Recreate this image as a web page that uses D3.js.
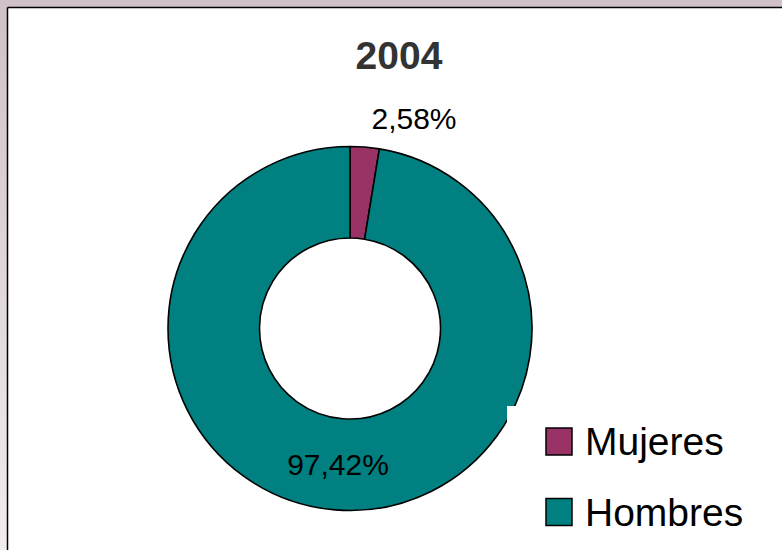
<!DOCTYPE html>
<html>
<head>
<meta charset="utf-8">
<script src="https://cdn.jsdelivr.net/npm/d3@7/dist/d3.min.js"></script>
<style>
html,body{margin:0;padding:0;background:#fff;}
svg{display:block;}
</style>
</head>
<body>
<svg id="c" width="782" height="550"></svg>
<script>
const title = "2004";
const categories = ["Mujeres", "Hombres"];
const values = [2.58, 97.42];
const labels = ["2,58%", "97,42%"];
const colors = ["#993366", "#008080"];

const svg = d3.select("#c");
const W = 782, H = 550;
const font = "'Liberation Sans', Arial, Helvetica, sans-serif";

// frame
const defs = svg.append("defs");
const lg = defs.append("linearGradient").attr("id","lg").attr("x1",0).attr("y1",0).attr("x2",0).attr("y2",1);
lg.append("stop").attr("offset","0%").attr("stop-color","#d0c0c8");
lg.append("stop").attr("offset","100%").attr("stop-color","#f0ecf0");
svg.append("rect").attr("x",0).attr("y",0).attr("width",W).attr("height",H).attr("fill","#fff");
svg.append("rect").attr("x",0).attr("y",0).attr("width",8).attr("height",H).attr("fill","url(#lg)");
svg.append("rect").attr("x",0).attr("y",0).attr("width",W).attr("height",7).attr("fill","#d0c0c8");
svg.append("line").attr("x1",7.5).attr("y1",7.5).attr("x2",W).attr("y2",7.5).attr("stroke","#000").attr("stroke-width",1.5);
svg.append("line").attr("x1",7.5).attr("y1",7.5).attr("x2",7.5).attr("y2",H).attr("stroke","#000").attr("stroke-width",1.5);

// title
svg.append("text").attr("x",399).attr("y",69).attr("text-anchor","middle")
  .attr("font-family",font).attr("font-weight","bold").attr("font-size",39)
  .attr("fill","#333333").text(title);

// donut
const cx = 350, cy = 328.5, rOuter = 182, rInner = 90.5;
const pie = d3.pie().sort(null).value(d => d);
const arcs = pie(values);
const arc = d3.arc().innerRadius(rInner).outerRadius(rOuter);
const g = svg.append("g").attr("transform",`translate(${cx},${cy})`);
g.selectAll("path").data(arcs).join("path")
  .attr("d", arc)
  .attr("fill", (d,i) => colors[i])
  .attr("stroke","#000").attr("stroke-width",1.6).attr("stroke-linejoin","round");

// legend box (white, overlapping donut)
const lgX = 507, lgY = 406;
svg.append("rect").attr("x",lgX).attr("y",lgY).attr("width",W-lgX).attr("height",H-lgY).attr("fill","#fff");
const ly = d3.scaleBand().domain(categories).range([406.25, 547.25]).padding(0);
categories.forEach((c,i) => {
  const y0 = ly(c) + ly.bandwidth()/2;
  svg.append("rect").attr("x",546).attr("y",y0-13.5).attr("width",26).attr("height",27)
    .attr("fill",colors[i]).attr("stroke","#000").attr("stroke-width",1.5);
  svg.append("text").attr("x",585).attr("y",y0+13.5)
    .attr("font-family",font).attr("font-size",39).attr("fill","#000").text(c);
});

// data labels
const labelPos = [[414,129],[338,475]];
labels.forEach((t,i) => {
  svg.append("text").attr("x",labelPos[i][0]).attr("y",labelPos[i][1]).attr("text-anchor","middle")
    .attr("font-family",font).attr("font-size",30).attr("fill","#000").text(t);
});
</script>
</body>
</html>
